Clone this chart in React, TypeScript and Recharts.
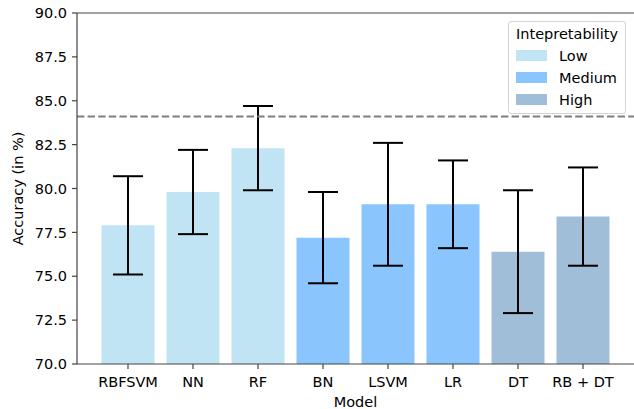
import React from 'react';
import { BarChart, Bar, XAxis, YAxis, Cell, ErrorBar, ReferenceLine, Legend } from 'recharts';

const categories = ['RBFSVM', 'NN', 'RF', 'BN', 'LSVM', 'LR', 'DT', 'RB + DT'];
const accuracy = [77.9, 79.8, 82.3, 77.2, 79.1, 79.1, 76.4, 78.4];
const errors = [2.8, 2.4, 2.4, 2.6, 3.5, 2.5, 3.5, 2.8];
const interpretability = ['Low', 'Low', 'Low', 'Medium', 'Medium', 'Medium', 'High', 'High'];
const levels = ['Low', 'Medium', 'High'];
const levelColors: Record<string, string> = { Low: '#c0e4f4', Medium: '#8ac5fe', High: '#a1bed9' };
const yTicks = [70, 72.5, 75, 77.5, 80, 82.5, 85, 87.5, 90];
const baseline = 84.1;
const legendTitle = 'Intepretability';

const data = categories.map((c, i) => ({
  model: c,
  acc: accuracy[i],
  err: errors[i],
  level: interpretability[i],
}));

const FONT = '"DejaVu Sans", sans-serif';
const FS = 14.5;

const renderLegend = () => (
  <div
    style={{
      position: 'relative',
      width: 118,
      height: 93,
      border: '1px solid #d4d4d4',
      borderRadius: 3,
      boxSizing: 'border-box',
      background: 'rgba(255,255,255,0.8)',
      fontFamily: FONT,
      fontSize: FS,
      color: '#000',
    }}
  >
    <div style={{ position: 'absolute', left: 7, top: 4, lineHeight: '17px', whiteSpace: 'nowrap' }}>{legendTitle}</div>
    {levels.map((lv, i) => (
      <React.Fragment key={lv}>
        <div
          style={{
            position: 'absolute',
            left: 7,
            top: 28.3 + i * 22,
            width: 31,
            height: 10.7,
            background: levelColors[lv],
          }}
        />
        <div style={{ position: 'absolute', left: 50, top: 25.8 + i * 22, lineHeight: '17px', whiteSpace: 'nowrap' }}>{lv}</div>
      </React.Fragment>
    ))}
  </div>
);

export default function App() {
  return (
    <div style={{ position: 'absolute', left: 0, top: 0, width: 634, height: 409, background: '#fff' }}>
      <BarChart
        width={634}
        height={409}
        data={data}
        margin={{ top: 13, right: 0, bottom: 0, left: 0 }}
        barSize={53}
      >
        <XAxis
          dataKey="model"
          height={45}
          padding={{ left: 18.5, right: 18.5 }}
          axisLine={{ stroke: '#444', strokeWidth: 1.2 }}
          tickLine={{ stroke: '#444', strokeWidth: 1.2 }}
          tickSize={5}
          tickMargin={8}
          interval={0}
          tick={{ fill: '#000', fontSize: FS, fontFamily: FONT }}
          label={{ value: 'Model', position: 'insideBottom', offset: 2, fill: '#000', fontSize: FS, fontFamily: FONT }}
        />
        <YAxis
          width={77}
          type="number"
          domain={[70, 90]}
          ticks={yTicks}
          allowDataOverflow
          tickFormatter={(v: number) => v.toFixed(1)}
          axisLine={{ stroke: '#444', strokeWidth: 1.2 }}
          tickLine={{ stroke: '#444', strokeWidth: 1.2 }}
          tickSize={5}
          tickMargin={5}
          tick={{ fill: '#000', fontSize: FS, fontFamily: FONT }}
          label={{
            value: 'Accuracy (in %)',
            angle: -90,
            position: 'insideLeft',
            offset: 18,
            fill: '#000',
            fontSize: FS,
            fontFamily: FONT,
            style: { textAnchor: 'middle' },
          }}
        />
        <ReferenceLine y={90} stroke="#444" strokeWidth={1.2} />
        <Bar dataKey="acc" isAnimationActive={false}>
          {data.map((d) => (
            <Cell key={d.model} fill={levelColors[d.level]} />
          ))}
          <ErrorBar dataKey="err" width={15} stroke="#000" strokeWidth={2} direction="y" />
        </Bar>
        <ReferenceLine y={baseline} stroke="#7f7f7f" strokeWidth={2} strokeDasharray="7.4 3.2" />
        <Legend
          layout="vertical"
          align="center"
          verticalAlign="middle"
          content={renderLegend}
          wrapperStyle={{ position: 'absolute', left: 508, top: 21, width: 118, height: 93 }}
        />
      </BarChart>
    </div>
  );
}
